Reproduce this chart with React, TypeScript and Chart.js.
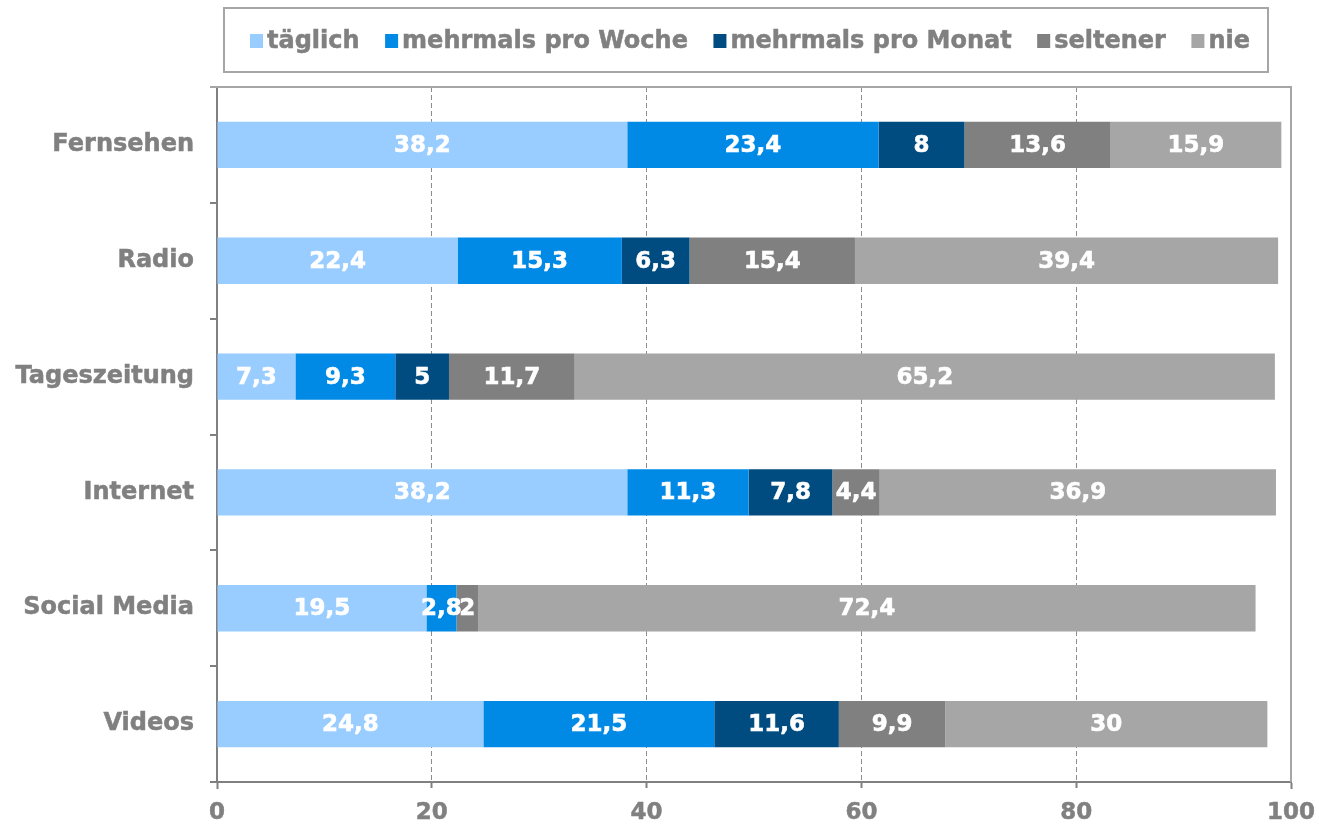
import React, { useEffect, useRef } from "react";
import { Chart, registerables } from "chart.js";

Chart.register(...registerables);

const categories = ["Fernsehen", "Radio", "Tageszeitung", "Internet", "Social Media", "Videos"];
const seriesLabels = ["täglich", "mehrmals pro Woche", "mehrmals pro Monat", "seltener", "nie"];
const taeglich = [38.2, 22.4, 7.3, 38.2, 19.5, 24.8];
const proWoche = [23.4, 15.3, 9.3, 11.3, 2.8, 21.5];
const proMonat = [8, 6.3, 5, 7.8, null, 11.6];
const seltener = [13.6, 15.4, 11.7, 4.4, 2, 9.9];
const nie = [15.9, 39.4, 65.2, 36.9, 72.4, 30];
const xTickValues = [0, 20, 40, 60, 80, 100];
const seriesColors = ["#99CCFF", "#008AE6", "#004C80", "#808080", "#A6A6A6"];

const FONT = "Verdana, 'DejaVu Sans', sans-serif";
const GRAY = "#808080";

const dataLabelPlugin = {
  id: "dataLabels",
  afterDatasetsDraw(chart: any) {
    const ctx = chart.ctx;
    ctx.save();
    ctx.font = `bold 23px ${FONT}`;
    ctx.fillStyle = "#FFFFFF";
    ctx.strokeStyle = "#FFFFFF";
    ctx.lineWidth = 0.6;
    ctx.textAlign = "center";
    ctx.textBaseline = "middle";
    chart.data.datasets.forEach((ds: any, di: number) => {
      const meta = chart.getDatasetMeta(di);
      meta.data.forEach((bar: any, i: number) => {
        const v = ds.data[i];
        if (v === null || v === undefined) return;
        const cx = (bar.x + bar.base) / 2;
        const t = String(v).replace(".", ",");
        ctx.fillText(t, cx, bar.y + 1);
        ctx.strokeText(t, cx, bar.y + 1);
      });
    });
    ctx.restore();
  },
};

const framePlugin = {
  id: "frame",
  beforeDatasetsDraw(chart: any) {
    const { ctx, chartArea } = chart;
    const xs = chart.scales.x;
    const xr = xs.getPixelForValue(100);
    ctx.save();
    ctx.strokeStyle = "#A6A6A6";
    ctx.lineWidth = 2;
    ctx.beginPath();
    ctx.moveTo(chartArea.left - 7, chartArea.top);
    ctx.lineTo(xr, chartArea.top);
    ctx.lineTo(xr, chartArea.bottom);
    ctx.stroke();
    ctx.restore();
  },
};

const legendPlugin = {
  id: "customLegend",
  afterDraw(chart: any) {
    const ctx = chart.ctx;
    ctx.save();
    ctx.strokeStyle = "#A6A6A6";
    ctx.lineWidth = 2;
    ctx.strokeRect(224, 8, 1044, 64);
    ctx.font = `bold 24px ${FONT}`;
    const widths = seriesLabels.map((l) => ctx.measureText(l).width);
    const box = 13;
    const gapBox = 4;
    const itemsW = widths.reduce((a, w) => a + box + gapBox + w, 0);
    let gap = (1000 - itemsW) / (seriesLabels.length - 1);
    if (gap < 14) gap = 14;
    const total = itemsW + gap * (seriesLabels.length - 1);
    let x = 750 - total / 2;
    const cy = 41;
    ctx.textBaseline = "middle";
    ctx.textAlign = "left";
    ctx.lineWidth = 0.5;
    seriesLabels.forEach((l, i) => {
      ctx.fillStyle = seriesColors[i];
      ctx.fillRect(x, cy - 7, box, 14);
      ctx.fillStyle = GRAY;
      ctx.strokeStyle = GRAY;
      ctx.fillText(l, x + box + gapBox, cy + 1);
      ctx.strokeText(l, x + box + gapBox, cy + 1);
      x += box + gapBox + widths[i] + gap;
    });
    ctx.restore();
  },
};

export default function App() {
  const canvasRef = useRef<HTMLCanvasElement | null>(null);

  useEffect(() => {
    if (!canvasRef.current) return;
    const seriesData = [taeglich, proWoche, proMonat, seltener, nie];
    const chart = new Chart(canvasRef.current, {
      type: "bar",
      data: {
        labels: categories,
        datasets: seriesLabels.map((label, i) => ({
          label,
          data: seriesData[i] as any,
          backgroundColor: seriesColors[i],
          borderWidth: 0,
          barPercentage: 0.4,
          categoryPercentage: 1,
        })),
      },
      options: {
        indexAxis: "y",
        responsive: false,
        animation: false,
        layout: { padding: { top: 87, left: 0, right: 28, bottom: 0 } },
        plugins: {
          legend: { display: false },
          tooltip: { enabled: false },
        },
        scales: {
          x: {
            type: "linear",
            stacked: true,
            min: 0,
            max: 100,
            afterBuildTicks: (s: any) => {
              s.ticks = xTickValues.map((v) => ({ value: v }));
            },
            afterFit: (s: any) => {
              s.height = 44;
              s.paddingLeft = 0;
              s.paddingRight = 0;
            },
            ticks: {
              color: GRAY,
              font: { family: FONT, size: 23, weight: "bold" },
              padding: 10,
              textStrokeColor: GRAY,
              textStrokeWidth: 0.5,
            },
            grid: {
              color: (c: any) =>
                c.tick && (c.tick.value === 0 || c.tick.value === 100) ? "rgba(0,0,0,0)" : "#8C8C8C",
              lineWidth: 1,
              drawTicks: true,
              tickLength: 7,
              tickColor: GRAY,
              tickWidth: 2,
              tickBorderDash: (c: any) =>
                c.tick && (c.tick.value === 0 || c.tick.value === 100) ? [] : [5, 3],
            } as any,
            border: { display: true, color: GRAY, width: 2, dash: [5, 3] },
          },
          y: {
            type: "category",
            stacked: true,
            afterFit: (s: any) => {
              s.width = 217;
            },
            ticks: {
              color: GRAY,
              font: { family: FONT, size: 24, weight: "bold" },
              padding: 16,
              textStrokeColor: GRAY,
              textStrokeWidth: 0.5,
            },
            grid: {
              drawOnChartArea: false,
              drawTicks: true,
              tickLength: 7,
              color: GRAY,
              lineWidth: 2,
              offset: true,
            },
            border: { display: true, color: GRAY, width: 2 },
          },
        },
      } as any,
      plugins: [framePlugin, dataLabelPlugin, legendPlugin],
    });
    return () => chart.destroy();
  }, []);

  return (
    <div style={{ position: "absolute", left: 0, top: 0, width: 1319, height: 826 }}>
      <canvas ref={canvasRef} width={1319} height={826} style={{ display: "block" }} />
    </div>
  );
}
